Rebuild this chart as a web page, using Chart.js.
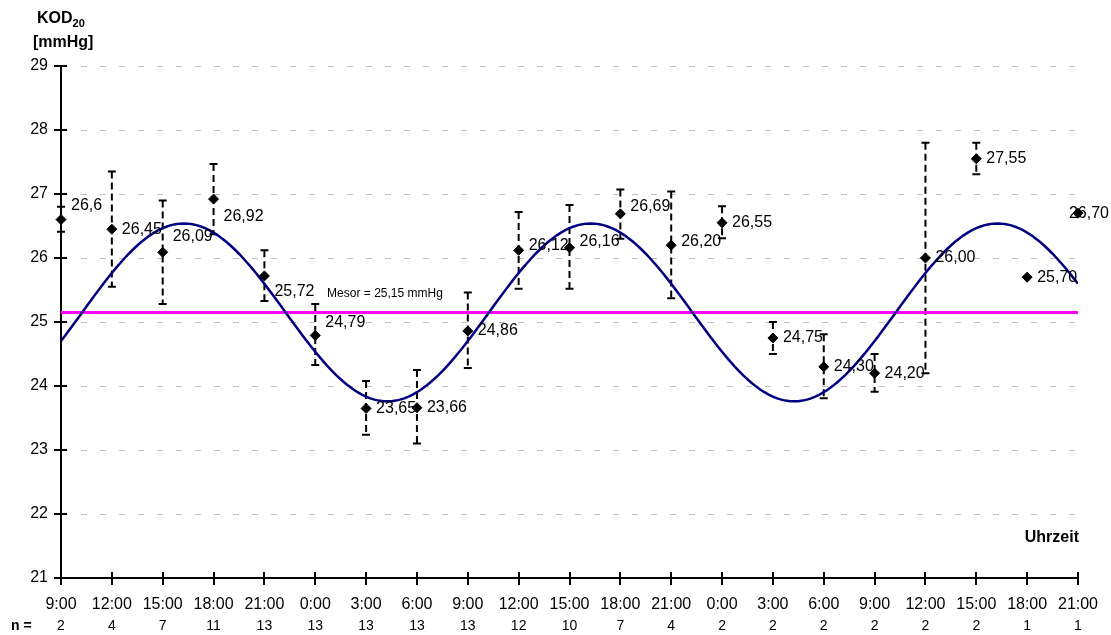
<!DOCTYPE html>
<html lang="de">
<head>
  <meta charset="UTF-8" />
  <title>KOD20 Tagesprofil</title>
  <script src="https://cdn.jsdelivr.net/npm/chart.js"></script>
  <style>
    html, body { margin: 0; padding: 0; background: #fff; }
    #wrap { width: 1111px; height: 635px; position: relative; }
  </style>
</head>
<body>
  <div id="wrap"><canvas id="kodChart"></canvas></div>

  <script>
    // Messzeitpunkte (Stunden ab 9:00 des ersten Tages)
    const hours = [0, 3, 6, 9, 12, 15, 18, 21, 24, 27, 30, 33, 36, 39, 42, 45, 48, 51, 54, 57, 60];
    const timeLabels = ['9:00', '12:00', '15:00', '18:00', '21:00', '0:00', '3:00', '6:00', '9:00', '12:00',
                        '15:00', '18:00', '21:00', '0:00', '3:00', '6:00', '9:00', '12:00', '15:00', '18:00', '21:00'];

    // Mittelwerte KOD20 [mmHg] mit Fehlerbalken
    const kodMean = [26.6, 26.45, 26.09, 26.92, 25.72, 24.79, 23.65, 23.66, 24.86, 26.12,
                     26.16, 26.69, 26.20, 26.55, 24.75, 24.30, 24.20, 26.00, 27.55, 25.70, 26.70];
    const kodLow  = [26.41, 25.55, 25.28, 26.37, 25.33, 24.33, 23.24, 23.10, 24.28, 25.52,
                     25.52, 26.30, 25.37, 26.31, 24.50, 23.81, 23.91, 24.20, 27.31, null, null];
    const kodHigh = [26.80, 27.35, 26.90, 27.47, 26.12, 25.28, 24.08, 24.25, 25.46, 26.72,
                     26.83, 27.07, 27.04, 26.81, 25.00, 24.81, 24.50, 27.80, 27.80, null, null];
    const valueLabels = ['26,6', '26,45', '26,09', '26,92', '25,72', '24,79', '23,65', '23,66', '24,86', '26,12',
                         '26,16', '26,69', '26,20', '26,55', '24,75', '24,30', '24,20', '26,00', '27,55', '25,70', '26,70'];
    const nCounts = [2, 4, 7, 11, 13, 13, 13, 13, 13, 12, 10, 7, 4, 2, 2, 2, 2, 2, 2, 1, 1];

    // Kosinor-Modell
    const mesor = 25.15;
    const amplitude = 1.39;
    const acrophase = 7.25;   // Stunden nach 9:00
    const period = 24;

    // manuell verschobene Datenbeschriftungen (px)
    const labelNudge = [-14, 0, -16, 17, 16, -13, 0, 0, 0, -5, -6, -7, -4, 0, 0, 0, 0, 0, 0, 0, 0];

    const points = hours.map((h, i) => ({ x: h, y: kodMean[i] }));
    const curve = [];
    for (let t = 0; t <= 60; t += 0.25) {
      curve.push({ x: t, y: mesor + amplitude * Math.cos(2 * Math.PI * (t - acrophase) / period) });
    }

    const FONT = 'Arial, "Liberation Sans", sans-serif';

    const errorBars = {
      id: 'errorBars',
      beforeDatasetsDraw(chart) {
        const { ctx, scales: { x, y } } = chart;
        ctx.save();
        ctx.strokeStyle = '#000';
        ctx.lineWidth = 2;
        hours.forEach((h, i) => {
          if (kodLow[i] == null) return;
          const px = x.getPixelForValue(h);
          const top = y.getPixelForValue(kodHigh[i]);
          const bot = y.getPixelForValue(kodLow[i]);
          ctx.setLineDash([7, 4]);
          ctx.beginPath();
          ctx.moveTo(px, top);
          ctx.lineTo(px, bot);
          ctx.stroke();
          ctx.setLineDash([]);
          ctx.beginPath();
          ctx.moveTo(px - 4, top); ctx.lineTo(px + 4, top);
          ctx.moveTo(px - 4, bot); ctx.lineTo(px + 4, bot);
          ctx.stroke();
        });
        ctx.restore();
      }
    };

    const annotations = {
      id: 'annotations',
      afterDraw(chart) {
        const { ctx, scales: { x, y }, chartArea } = chart;
        ctx.save();

        // Achsen-Teilstriche (kreuzend)
        ctx.strokeStyle = '#000';
        ctx.lineWidth = 2;
        ctx.beginPath();
        for (let v = 21; v <= 29; v++) {
          const py = Math.round(y.getPixelForValue(v));
          ctx.moveTo(chartArea.left - 7, py);
          ctx.lineTo(chartArea.left + 6, py);
        }
        hours.forEach(h => {
          const px = Math.round(x.getPixelForValue(h));
          ctx.moveTo(px, chartArea.bottom - 6);
          ctx.lineTo(px, chartArea.bottom + 7);
        });
        ctx.stroke();

        // Datenbeschriftungen
        ctx.fillStyle = '#000';
        ctx.font = '16px ' + FONT;
        ctx.textBaseline = 'middle';
        ctx.textAlign = 'left';
        hours.forEach((h, i) => {
          const w = ctx.measureText(valueLabels[i]).width;
          let lx = x.getPixelForValue(h) + 10;
          if (lx + w > chart.width - 2) lx = chart.width - 2 - w;
          ctx.fillText(valueLabels[i], lx, y.getPixelForValue(kodMean[i]) + labelNudge[i]);
        });

        // Mesor-Beschriftung
        ctx.font = '12px ' + FONT;
        ctx.fillText('Mesor = 25,15 mmHg', x.getPixelForValue(15.7), y.getPixelForValue(mesor) - 19);

        // Achsentitel
        ctx.font = 'bold 16px ' + FONT;
        ctx.textBaseline = 'alphabetic';
        ctx.fillText('KOD', 37, 23);
        const kw = ctx.measureText('KOD').width;
        ctx.font = 'bold 11px ' + FONT;
        ctx.fillText('20', 37 + kw, 27);
        ctx.font = 'bold 16px ' + FONT;
        ctx.fillText('[mmHg]', 33, 47);
        ctx.textAlign = 'right';
        ctx.fillText('Uhrzeit', chartArea.right + 1, 542);

        // Fallzahlen
        ctx.textBaseline = 'middle';
        ctx.textAlign = 'left';
        ctx.font = 'bold 14px ' + FONT;
        ctx.fillText('n =', 11, 626);
        ctx.font = '14px ' + FONT;
        ctx.textAlign = 'center';
        hours.forEach((h, i) => {
          ctx.fillText(String(nCounts[i]), x.getPixelForValue(h), 626);
        });

        ctx.restore();
      }
    };

    const ctx = document.getElementById('kodChart').getContext('2d');
    new Chart(ctx, {
      type: 'scatter',
      data: {
        datasets: [
          {
            label: 'KOD20',
            data: points,
            pointStyle: 'rectRot',
            pointRadius: 5,
            backgroundColor: '#000',
            borderColor: '#000',
            borderWidth: 1,
            showLine: false,
            clip: false
          },
          {
            type: 'line',
            label: 'Kosinor',
            data: curve,
            borderColor: '#000080',
            borderWidth: 2.5,
            pointRadius: 0,
            tension: 0,
            fill: false
          },
          {
            type: 'line',
            label: 'Mesor',
            data: [{ x: 0, y: mesor }, { x: 60, y: mesor }],
            borderColor: '#ff00ff',
            borderWidth: 3,
            pointRadius: 0,
            fill: false
          }
        ]
      },
      options: {
        responsive: true,
        maintainAspectRatio: false,
        animation: false,
        layout: { autoPadding: false, padding: { top: 66, right: 33, left: 0, bottom: 0 } },
        plugins: { legend: { display: false }, tooltip: { enabled: false } },
        scales: {
          x: {
            type: 'linear',
            min: 0,
            max: 60,
            ticks: {
              stepSize: 3,
              autoSkip: false,
              maxRotation: 0,
              padding: 17,
              color: '#000',
              font: { family: FONT, size: 16 },
              callback: (v) => timeLabels[hours.indexOf(v)]
            },
            grid: { display: false, drawTicks: false },
            border: { color: '#000', width: 2 },
            afterFit: s => { s.height = 57; s.paddingLeft = 0; s.paddingRight = 0; }
          },
          y: {
            min: 21,
            max: 29,
            ticks: {
              stepSize: 1,
              padding: 13,
              color: '#000',
              font: { family: FONT, size: 16 }
            },
            grid: { color: '#c0c0c0', drawTicks: false },
            border: { color: '#000', width: 2, dash: [6, 13] },
            afterFit: s => { s.width = 61; }
          }
        }
      },
      plugins: [errorBars, annotations]
    });
  </script>
</body>
</html>
